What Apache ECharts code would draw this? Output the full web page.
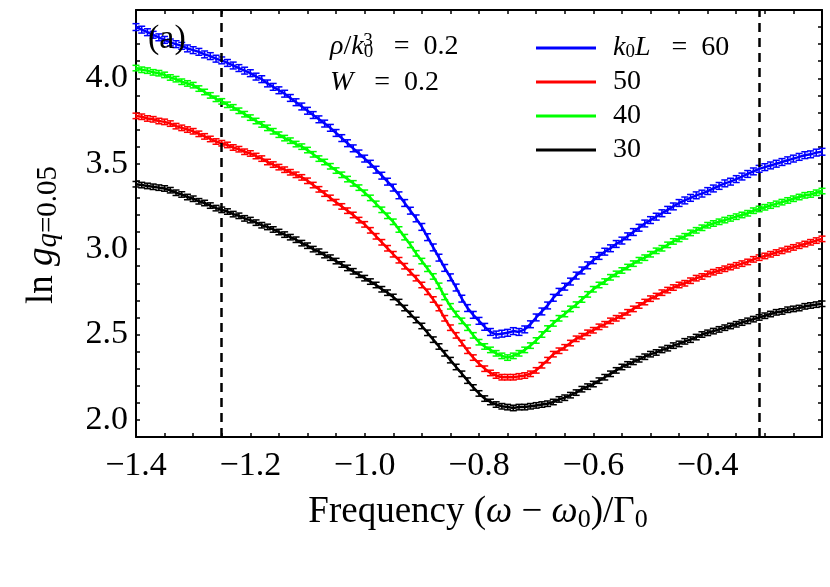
<!DOCTYPE html>
<html><head><meta charset="utf-8">
<script src="https://cdn.jsdelivr.net/npm/echarts@6/dist/echarts.min.js"></script>
<style>html,body{margin:0;padding:0;background:#fff}#c{width:830px;height:587px}</style>
</head><body><div id="c"></div>
<script>
const freq = [-1.40,-1.39,-1.38,-1.37,-1.36,-1.35,-1.34,-1.33,-1.32,-1.31,-1.30,-1.29,-1.28,-1.27,-1.26,-1.25,-1.24,-1.23,-1.22,-1.21,-1.20,-1.19,-1.18,-1.17,-1.16,-1.15,-1.14,-1.13,-1.12,-1.11,-1.10,-1.09,-1.08,-1.07,-1.06,-1.05,-1.04,-1.03,-1.02,-1.01,-1.00,-0.99,-0.98,-0.97,-0.96,-0.95,-0.94,-0.93,-0.92,-0.91,-0.90,-0.89,-0.88,-0.87,-0.86,-0.85,-0.84,-0.83,-0.82,-0.81,-0.80,-0.79,-0.78,-0.77,-0.76,-0.75,-0.74,-0.73,-0.72,-0.71,-0.70,-0.69,-0.68,-0.67,-0.66,-0.65,-0.64,-0.63,-0.62,-0.61,-0.60,-0.59,-0.58,-0.57,-0.56,-0.55,-0.54,-0.53,-0.52,-0.51,-0.50,-0.49,-0.48,-0.47,-0.46,-0.45,-0.44,-0.43,-0.42,-0.41,-0.40,-0.39,-0.38,-0.37,-0.36,-0.35,-0.34,-0.33,-0.32,-0.31,-0.30,-0.29,-0.28,-0.27,-0.26,-0.25,-0.24,-0.23,-0.22,-0.21,-0.20];

const L60 = [4.30,4.285,4.27,4.255,4.24,4.225,4.21,4.20,4.19,4.175,4.165,4.155,4.14,4.13,4.115,4.105,4.09,4.075,4.06,4.045,4.03,4.01,3.995,3.97,3.95,3.93,3.91,3.885,3.86,3.835,3.81,3.785,3.76,3.735,3.71,3.68,3.65,3.62,3.59,3.56,3.53,3.50,3.465,3.43,3.395,3.36,3.315,3.27,3.225,3.18,3.13,3.07,3.01,2.95,2.89,2.835,2.775,2.71,2.655,2.615,2.58,2.545,2.515,2.50,2.505,2.51,2.52,2.515,2.53,2.56,2.60,2.635,2.67,2.715,2.75,2.78,2.81,2.845,2.875,2.905,2.935,2.96,2.985,3.005,3.03,3.05,3.075,3.10,3.125,3.15,3.17,3.19,3.21,3.23,3.25,3.27,3.285,3.30,3.315,3.325,3.34,3.355,3.37,3.385,3.395,3.41,3.425,3.44,3.455,3.47,3.48,3.49,3.50,3.51,3.52,3.53,3.54,3.55,3.555,3.565,3.57];

const L50 = [3.78,3.775,3.765,3.76,3.75,3.745,3.735,3.72,3.71,3.70,3.69,3.675,3.66,3.645,3.63,3.62,3.61,3.595,3.585,3.57,3.56,3.545,3.53,3.51,3.495,3.48,3.465,3.45,3.435,3.42,3.40,3.375,3.35,3.325,3.30,3.275,3.25,3.225,3.20,3.17,3.145,3.11,3.075,3.04,3.005,2.97,2.935,2.90,2.865,2.83,2.79,2.75,2.705,2.655,2.595,2.54,2.495,2.45,2.405,2.365,2.33,2.30,2.275,2.26,2.25,2.25,2.25,2.255,2.26,2.27,2.29,2.32,2.35,2.385,2.405,2.425,2.45,2.475,2.49,2.51,2.525,2.545,2.56,2.58,2.595,2.61,2.63,2.65,2.67,2.69,2.71,2.725,2.745,2.76,2.775,2.79,2.80,2.815,2.83,2.84,2.855,2.865,2.875,2.885,2.895,2.905,2.915,2.925,2.94,2.95,2.96,2.97,2.98,2.99,3.00,3.01,3.02,3.03,3.04,3.05,3.06];

const L40 = [4.06,4.05,4.045,4.035,4.03,4.02,4.005,3.995,3.98,3.97,3.96,3.94,3.92,3.90,3.88,3.865,3.845,3.83,3.81,3.79,3.77,3.75,3.73,3.71,3.69,3.67,3.65,3.635,3.615,3.60,3.58,3.555,3.53,3.51,3.485,3.46,3.435,3.41,3.385,3.36,3.33,3.30,3.265,3.23,3.195,3.16,3.115,3.07,3.025,2.975,2.93,2.885,2.84,2.785,2.72,2.665,2.62,2.58,2.54,2.495,2.455,2.43,2.41,2.39,2.375,2.365,2.375,2.39,2.41,2.435,2.465,2.50,2.535,2.565,2.595,2.62,2.65,2.675,2.705,2.735,2.765,2.79,2.81,2.835,2.855,2.875,2.895,2.915,2.935,2.95,2.97,2.99,3.005,3.025,3.045,3.06,3.075,3.095,3.11,3.125,3.14,3.15,3.16,3.17,3.18,3.19,3.20,3.21,3.225,3.235,3.245,3.255,3.265,3.275,3.285,3.295,3.305,3.315,3.32,3.33,3.34];

const L30 = [3.38,3.375,3.37,3.365,3.36,3.355,3.345,3.33,3.32,3.305,3.295,3.28,3.27,3.255,3.24,3.23,3.22,3.205,3.195,3.18,3.17,3.155,3.14,3.13,3.115,3.10,3.085,3.07,3.055,3.035,3.02,3.00,2.985,2.965,2.95,2.93,2.91,2.89,2.87,2.85,2.83,2.81,2.79,2.765,2.745,2.72,2.69,2.655,2.62,2.585,2.55,2.51,2.47,2.43,2.39,2.35,2.31,2.27,2.23,2.19,2.155,2.125,2.105,2.09,2.08,2.075,2.07,2.075,2.075,2.08,2.085,2.09,2.095,2.105,2.12,2.13,2.145,2.16,2.18,2.195,2.21,2.23,2.25,2.27,2.29,2.31,2.325,2.34,2.355,2.37,2.385,2.395,2.41,2.42,2.435,2.445,2.46,2.47,2.485,2.50,2.51,2.52,2.53,2.54,2.55,2.56,2.57,2.58,2.59,2.60,2.61,2.62,2.63,2.635,2.645,2.65,2.655,2.665,2.67,2.675,2.68];

const seriesNames = ['60','50','40','30'];
const seriesValues = [L60, L50, L40, L30];
const seriesErr = [0.02, 0.016, 0.016, 0.016];
const seriesColors = ['#0000ff','#ff0000','#00ff00','#000000'];
const xTicks = [-1.4,-1.2,-1.0,-0.8,-0.6,-0.4];
const yTicks = [2.0,2.5,3.0,3.5,4.0];
const dashedX = [-1.25, -0.31];

const FONT = 'Liberation Serif';
const EQ = ' \u2002=\u2002';
const chart = echarts.init(document.getElementById('c'), null, {renderer:'canvas'});

function fmtX(v){
  for (const t of xTicks) if (Math.abs(v-t)<1e-6) return (t<0?'\u2212':'')+Math.abs(t).toFixed(1);
  return '';
}
function fmtY(v){
  for (const t of yTicks) if (Math.abs(v-t)<1e-6) return t.toFixed(1);
  return '';
}

const series = [];
seriesNames.forEach((name,i)=>{
  const vals = seriesValues[i];
  series.push({
    name: name, type:'line', xAxisIndex:0, yAxisIndex:0,
    data: freq.map((x,j)=>[x, vals[j]]),
    symbol:'none', lineStyle:{color:seriesColors[i], width:2.5}, itemStyle:{color:seriesColors[i]},
    z: 3+i, animation:false, silent:true
  });
  series.push({
    name: name+'err', type:'custom', xAxisIndex:0, yAxisIndex:0,
    data: freq.map((x,j)=>[x, vals[j], seriesErr[i]]),
    z: 3+i, animation:false, silent:true,
    renderItem: function(params, api){
      const x = api.value(0), y = api.value(1), e = api.value(2);
      const p = api.coord([x, y+e]), q = api.coord([x, y-e]);
      const w = 3.5, st = {stroke: seriesColors[i], lineWidth: 1.5};
      return {type:'group', children:[
        {type:'line', shape:{x1:p[0],y1:p[1],x2:q[0],y2:q[1]}, style:st},
        {type:'line', shape:{x1:p[0]-w,y1:p[1],x2:p[0]+w,y2:p[1]}, style:st},
        {type:'line', shape:{x1:q[0]-w,y1:q[1],x2:q[0]+w,y2:q[1]}, style:st}
      ]};
    }
  });
});
series.push({
  type:'line', xAxisIndex:0, yAxisIndex:0, data:[], silent:true, animation:false,
  markLine:{symbol:'none', silent:true, animation:false, label:{show:false},
    lineStyle:{color:'#000', type:[9,6], width:2.5},
    data: dashedX.map(v=>({xAxis:v}))}
});

const axisCommon = {
  axisLine:{show:true, onZero:false, lineStyle:{color:'#000', width:2}},
  splitLine:{show:false}
};

const option = {
  backgroundColor:'#fff',
  animation:false,
  grid:{left:136, right:8, top:10, bottom:150},
  xAxis:[
    Object.assign({type:'value', position:'bottom', min:-1.4, max:-0.2, interval:0.05,
      axisTick:{show:true, inside:true, length:4, lineStyle:{color:'#000', width:1.5}},
      axisLabel:{show:true, interval:0, formatter:fmtX, color:'#000', fontFamily:FONT, fontSize:34, margin:12, showMaxLabel:false}
    }, axisCommon),
    Object.assign({type:'value', position:'top', min:-1.4, max:-0.2, interval:0.05,
      axisTick:{show:true, inside:true, length:4, lineStyle:{color:'#000', width:1.5}},
      axisLabel:{show:false}
    }, axisCommon)
  ],
  yAxis:[
    Object.assign({type:'value', position:'left', min:1.9, max:4.4, interval:0.1,
      axisTick:{show:true, inside:true, length:4, lineStyle:{color:'#000', width:1.5}},
      axisLabel:{show:true, interval:0, formatter:fmtY, color:'#000', fontFamily:FONT, fontSize:34, margin:8, showMinLabel:false, showMaxLabel:false}
    }, axisCommon),
    Object.assign({type:'value', position:'right', min:1.9, max:4.4, interval:0.1,
      axisTick:{show:true, inside:true, length:4, lineStyle:{color:'#000', width:1.5}},
      axisLabel:{show:false}
    }, axisCommon)
  ],
  legend:{
    data: seriesNames, orient:'vertical', left:536, top:34, icon:'rect',
    itemWidth:60, itemHeight:3, itemGap:6, padding:0, selectedMode:false,
    formatter: function(name){
      if (name==='60') return '{p| }{i|k}{s|0}{i|L}{t|'+EQ+'60}';
      return '{p| }{t|'+name+'}';
    },
    textStyle:{color:'#000', fontFamily:FONT, fontSize:28, lineHeight:28,
      rich:{
        p:{width:12, fontSize:28, lineHeight:28},
        t:{fontFamily:FONT, fontSize:28, lineHeight:28, color:'#000'},
        i:{fontFamily:FONT, fontStyle:'italic', fontSize:28, lineHeight:28, color:'#000'},
        s:{fontFamily:FONT, fontSize:19, lineHeight:19, verticalAlign:'bottom', color:'#000'}
      }
    }
  },
  graphic:[
    {type:'text', left:148, top:22, z:10, style:{text:'(a)', font:'34px "Liberation Serif"', fill:'#000'}},
    {type:'text', left:330, top:32, z:10, style:{
      text:'{i|\u03c1}{t|/}{i|k}{s|0}{u|3}{t|'+EQ+'0.2}',
      rich:{
        t:{fontFamily:FONT, fontSize:28, lineHeight:30, fill:'#000'},
        i:{fontFamily:FONT, fontStyle:'italic', fontSize:28, lineHeight:30, fill:'#000'},
        s:{fontFamily:FONT, fontSize:19, lineHeight:19, verticalAlign:'bottom', fill:'#000'},
        u:{fontFamily:FONT, fontSize:19, lineHeight:19, verticalAlign:'top', fill:'#000', padding:[0,0,0,-10]}
      }}},
    {type:'text', left:330, top:69, z:10, style:{
      text:'{i|W}{t|'+EQ+'0.2}',
      rich:{
        t:{fontFamily:FONT, fontSize:28, lineHeight:30, fill:'#000'},
        i:{fontFamily:FONT, fontStyle:'italic', fontSize:28, lineHeight:30, fill:'#000'}
      }}},
    {type:'text', x:478, y:512, z:10, style:{
      text:'{t|Frequency (}{i|\u03c9}{t| \u2212 }{i|\u03c9}{s|0}{t|)/\u0393}{s|0}',
      align:'center', verticalAlign:'middle',
      rich:{
        t:{fontFamily:FONT, fontSize:37, lineHeight:42, fill:'#000'},
        i:{fontFamily:FONT, fontStyle:'italic', fontSize:37, lineHeight:42, fill:'#000'},
        s:{fontFamily:FONT, fontSize:26, lineHeight:26, verticalAlign:'bottom', fill:'#000'}
      }}},
    {type:'text', x:42, y:235, rotation:Math.PI/2, z:10, style:{
      text:'{t|ln }{i|g}{s|q}{r|=0.05}',
      align:'center', verticalAlign:'middle',
      rich:{
        t:{fontFamily:FONT, fontSize:37, lineHeight:42, fill:'#000'},
        i:{fontFamily:FONT, fontStyle:'italic', fontSize:37, lineHeight:42, fill:'#000'},
        s:{fontFamily:FONT, fontStyle:'italic', fontSize:29, lineHeight:29, verticalAlign:'bottom', fill:'#000'},
        r:{fontFamily:FONT, fontSize:29, lineHeight:29, verticalAlign:'bottom', fill:'#000'}
      }}}
  ],
  series: series
};
chart.setOption(option);
</script>
</body></html>
